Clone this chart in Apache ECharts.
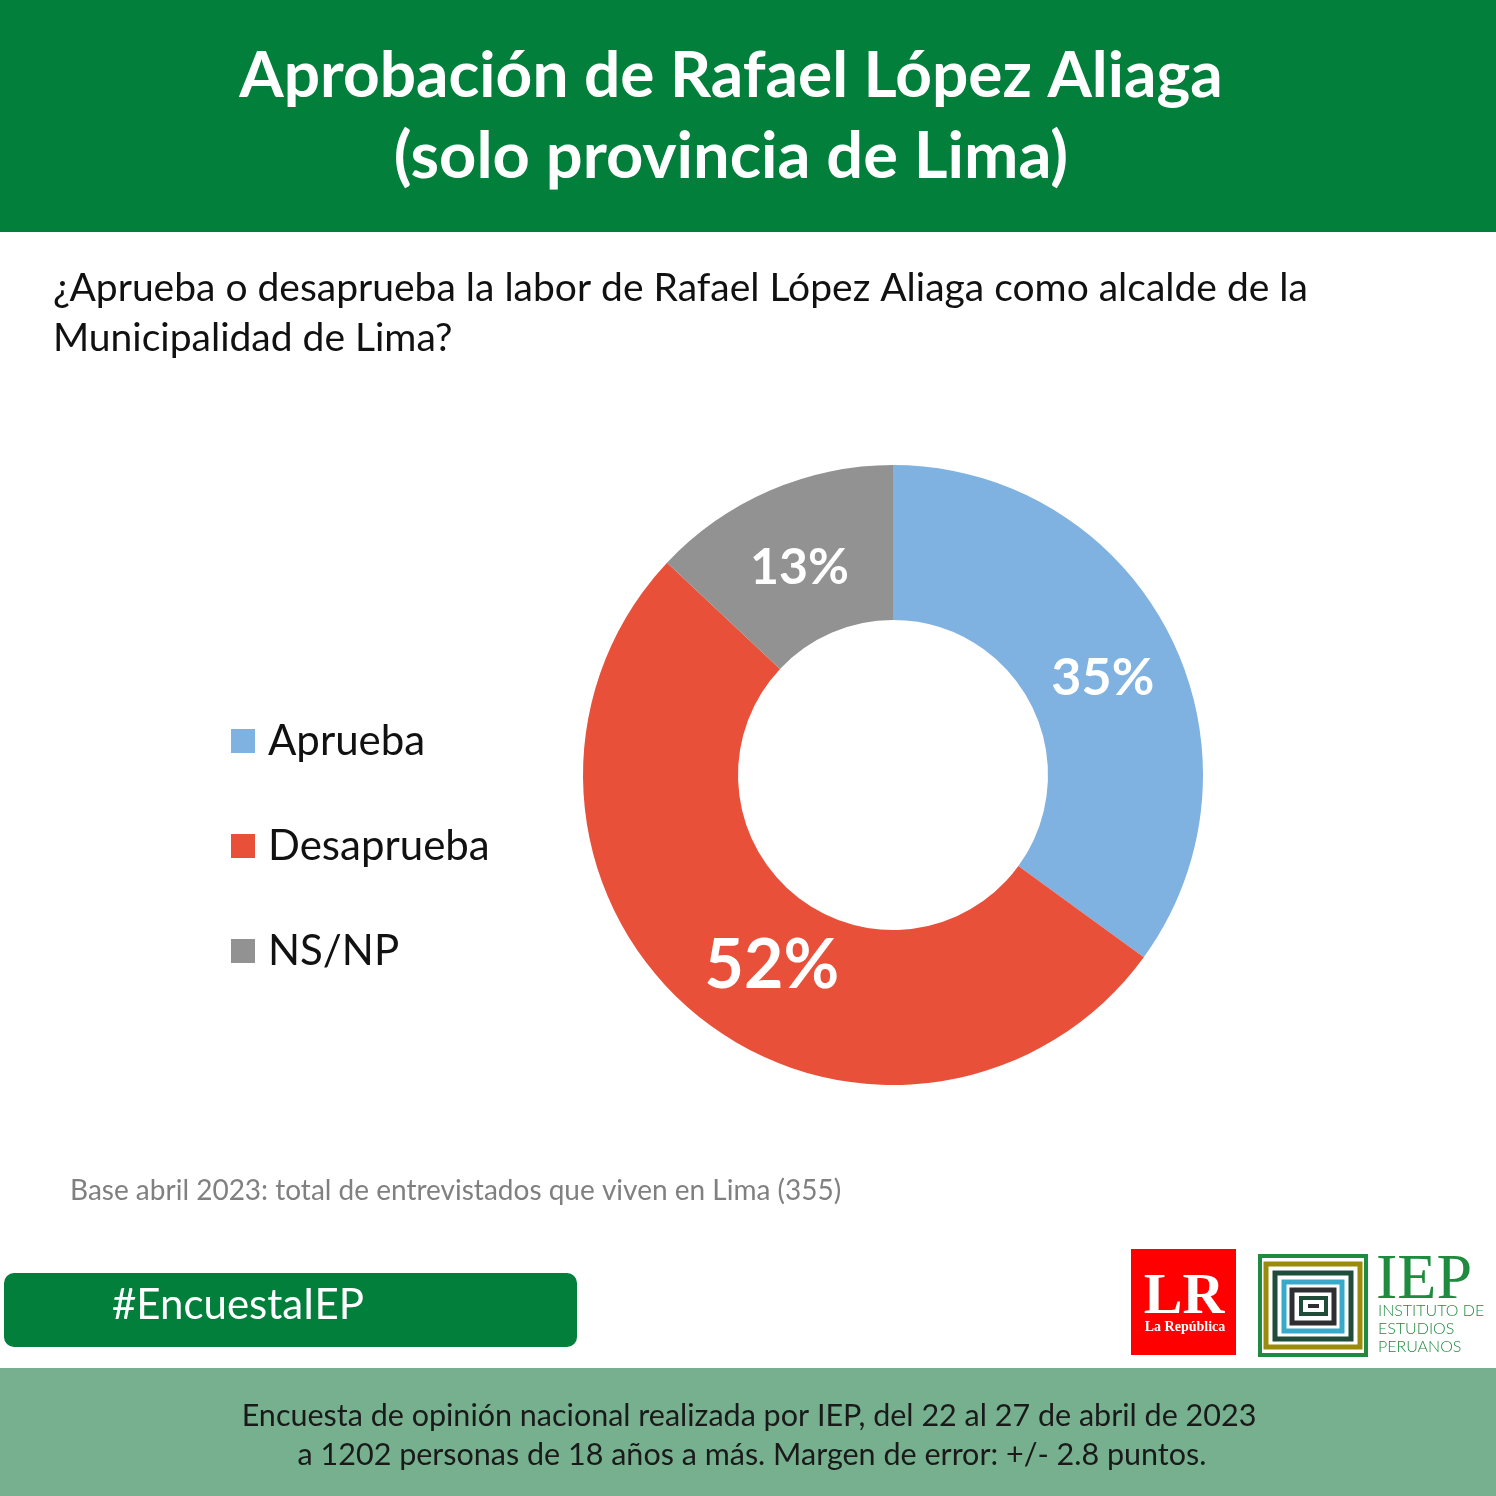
<!DOCTYPE html>
<html><head><meta charset="utf-8">
<script src="https://cdn.jsdelivr.net/npm/echarts@6/dist/echarts.min.js"></script>
<style>html,body{margin:0;padding:0;background:#fff}#c{width:1496px;height:1496px}</style>
</head><body><div id="c"></div>
<script>
const categories = ['Aprueba', 'Desaprueba', 'NS/NP'];
const values = [35, 52, 13];
const colors = ['#7FB2E1', '#E9503A', '#929292'];
const labelSizes = [52, 68, 50];
const labelShifts = [[0, 10], [29, 10], [0, 9]];

const FONT = 'Lato, "Open Sans", sans-serif';
const GREEN = '#017F3B';

const chart = echarts.init(document.getElementById('c'), null, {renderer: 'canvas'});

const pieData = categories.map((name, i) => ({
  name, value: values[i],
  itemStyle: {color: colors[i]},
  label: {fontSize: labelSizes[i], offset: labelShifts[i]}
}));

function nestedRect(x1, y1, x2, y2, color, w) {
  return {type: 'rect', shape: {x: x1, y: y1, width: x2 - x1, height: y2 - y1},
    style: {fill: 'none', stroke: color, lineWidth: w}, z: 10};
}

const option = {
  backgroundColor: '#ffffff',
  animation: false,
  legend: {
    orient: 'vertical', left: 226, top: 712,
    itemWidth: 24, itemHeight: 24, itemGap: 57, icon: 'rect',
    data: categories,
    textStyle: {fontFamily: FONT, fontSize: 42, color: '#111', lineHeight: 48, padding: [0, 0, 0, 8]}
  },
  series: [{
    type: 'pie', center: [893, 775], radius: [155, 310],
    startAngle: 90, clockwise: true, silent: true,
    label: {show: true, position: 'inside', formatter: '{c}%', color: '#fff',
      fontFamily: FONT, fontWeight: 'bold'},
    labelLine: {show: false},
    data: pieData
  }],
  graphic: [
    {type: 'rect', shape: {x: 0, y: 0, width: 1496, height: 232}, style: {fill: GREEN}, z: 1},
    {type: 'text', x: 731, y: 76, z: 2, style: {text: 'Aprobación de Rafael López Aliaga', fill: '#fff',
      font: 'bold 64px ' + FONT, textAlign: 'center', textVerticalAlign: 'middle'}},
    {type: 'text', x: 731, y: 157, z: 2, style: {text: '(solo provincia de Lima)', fill: '#fff',
      font: 'bold 65px ' + FONT, textAlign: 'center', textVerticalAlign: 'middle'}},
    {type: 'text', x: 53, y: 288, style: {text: '¿Aprueba o desaprueba la labor de Rafael López Aliaga como alcalde de la', fill: '#111',
      font: '39px ' + FONT, textAlign: 'left', textVerticalAlign: 'middle'}},
    {type: 'text', x: 53, y: 338, style: {text: 'Municipalidad de Lima?', fill: '#111',
      font: '39px ' + FONT, textAlign: 'left', textVerticalAlign: 'middle'}},
    {type: 'text', x: 70, y: 1191, style: {text: 'Base abril 2023: total de entrevistados que viven en Lima (355)', fill: '#808080',
      font: '28px ' + FONT, textAlign: 'left', textVerticalAlign: 'middle'}},
    {type: 'rect', shape: {x: 4, y: 1273, width: 573, height: 74, r: 10}, style: {fill: GREEN}},
    {type: 'text', x: 112, y: 1305, z: 3, style: {text: '#EncuestaIEP', fill: '#fff',
      font: '42px ' + FONT, textAlign: 'left', textVerticalAlign: 'middle'}},
    {type: 'rect', shape: {x: 0, y: 1368, width: 1496, height: 128}, style: {fill: '#76B08F'}},
    {type: 'text', x: 749, y: 1416, z: 3, style: {text: 'Encuesta de opinión nacional realizada por IEP, del 22 al 27 de abril de 2023', fill: '#1a1a1a',
      font: '30.5px ' + FONT, textAlign: 'center', textVerticalAlign: 'middle'}},
    {type: 'text', x: 752, y: 1455, z: 3, style: {text: 'a 1202 personas de 18 años a más. Margen de error: +/- 2.8 puntos.', fill: '#1a1a1a',
      font: '30.5px ' + FONT, textAlign: 'center', textVerticalAlign: 'middle'}},
    // La República logo
    {type: 'rect', shape: {x: 1131, y: 1249, width: 105, height: 106}, style: {fill: '#FF0000'}},
    {type: 'text', x: 1184, y: 1298, z: 3, style: {text: 'LR', fill: '#fff',
      font: 'bold 58px "Liberation Serif", "DejaVu Serif", serif', textAlign: 'center', textVerticalAlign: 'middle'}},
    {type: 'text', x: 1185, y: 1327, z: 3, style: {text: 'La República', fill: '#fff',
      font: 'bold 14px "Liberation Serif", "DejaVu Serif", serif', textAlign: 'center', textVerticalAlign: 'middle'}},
    // IEP logo
    nestedRect(1260, 1256, 1366, 1355, '#1E8B3E', 4),
    nestedRect(1266, 1264, 1360, 1347, '#9A8C0A', 5),
    nestedRect(1275, 1273, 1351, 1339, '#1F4D3A', 5),
    nestedRect(1284, 1282, 1342, 1331, '#38A9C9', 5),
    nestedRect(1292, 1290, 1334, 1323, '#2F2F33', 5),
    nestedRect(1301, 1298, 1326, 1314, '#1F4D3A', 4),
    {type: 'rect', shape: {x: 1308, y: 1304, width: 11, height: 4}, style: {fill: '#2F2F33'}, z: 11},
    {type: 'text', x: 1376, y: 1281, z: 3, style: {text: 'IEP', fill: '#1E8B3E',
      font: '64px "Liberation Serif", "DejaVu Serif", serif', textAlign: 'left', textVerticalAlign: 'middle'}},
    {type: 'text', x: 1378, y: 1311, z: 3, style: {text: 'INSTITUTO DE', fill: '#1E8B3E',
      font: '300 16px ' + FONT, textAlign: 'left', textVerticalAlign: 'middle'}},
    {type: 'text', x: 1378, y: 1329, z: 3, style: {text: 'ESTUDIOS', fill: '#1E8B3E',
      font: '300 16px ' + FONT, textAlign: 'left', textVerticalAlign: 'middle'}},
    {type: 'text', x: 1378, y: 1347, z: 3, style: {text: 'PERUANOS', fill: '#1E8B3E',
      font: '300 16px ' + FONT, textAlign: 'left', textVerticalAlign: 'middle'}}
  ]
};
chart.setOption(option);
</script></body></html>
